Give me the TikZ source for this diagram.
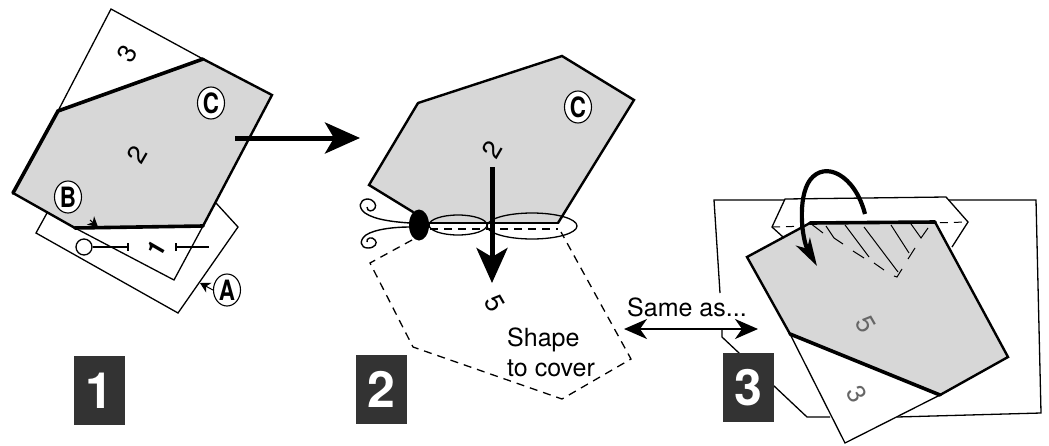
\documentclass[tikz,border=0pt]{standalone}
\usepackage{fontspec}
\usepackage{graphicx}
\setmainfont{TeX Gyre Heros}
\usetikzlibrary{arrows.meta,shapes.geometric}
\definecolor{paneg}{HTML}{D7D7D7}
\definecolor{sqdark}{HTML}{333333}
\definecolor{digitgray}{HTML}{666666}
\tikzset{
 thinl/.style={line width=1.3pt,line join=miter},
 medl/.style={line width=2.4pt,line cap=round},
 thickl/.style={line width=3.6pt,line cap=round},
 dashl/.style={line width=1.3pt,dash pattern=on 8pt off 6pt},
 badge/.style={fill=sqdark,text=white,font=\fontsize{50}{50}\selectfont\bfseries,minimum width=51pt,minimum height=69pt,inner sep=0pt},
 letterl/.style={ellipse,draw=black,fill=white,line width=1.1pt,minimum width=27pt,minimum height=32pt,inner sep=0pt,font=\fontsize{28}{28}\selectfont\bfseries},
 digitl/.style={font=\fontsize{26}{26}\selectfont,inner sep=0pt},
 plaintext/.style={font=\fontsize{25}{28}\selectfont,inner sep=0pt},
 bigarrow/.style={line width=5pt,-{Stealth[length=35pt,width=31pt,inset=9pt]}},
 smallhead/.style={line width=1pt,-{Stealth[length=10pt,width=11pt,inset=3pt]}},
 sameas/.style={line width=2.2pt,{Stealth[length=23pt,width=20pt,inset=7pt]}-{Stealth[length=23pt,width=20pt,inset=7pt]}},
 foldarrow/.style={line width=4.2pt,-{Stealth[length=28pt,width=16pt,inset=8pt]}},
}
\newcommand{\narrowed}[1]{\scalebox{.8}[1]{#1}}
\begin{document}
\begin{tikzpicture}[x=1pt,y=-1pt]
\useasboundingbox (0,0) rectangle (1049,445);
% ---------- panel 1
\draw[thinl,fill=white] (47,213) -- (36,233) -- (178,313) -- (238,227) -- (216,203);
\draw[thinl] (75,228) -- (174,280) -- (203,226);
\draw[thinl,fill=white] (58,111) -- (111,9) -- (203,59);
\fill[paneg] (58,111) -- (203,59) -- (272,95) -- (203,226) -- (75,228) -- (13,193) -- cycle;
\draw[thickl] (13,193) -- (58,111) -- (203,59);
\draw[medl] (203,59) -- (272,95) -- (203,226);
\draw[thickl] (203,226) -- (75,228);
\draw[medl] (75,228) -- (13,193);
\node[circle,draw,thinl,fill=white,minimum size=16pt,inner sep=0pt] (c1) at (84,247) {};
\coordinate (t1) at (128,247);
\coordinate (t2) at (176,247);
\coordinate (t3) at (209,247);
\draw[thinl] (c1) -- (t1);
\draw[thinl] (t2) -- (t3);
\draw[thinl] (128,243) -- (128,251);
\draw[thinl] (176,243) -- (176,251);
\node[digitl,rotate=60,font=\fontsize{24}{24}\selectfont\bfseries] (d1) at (156,248) {1};
\node[digitl,rotate=60] (d2) at (137,155) {2};
\node[digitl,rotate=60] (d3) at (127,54) {3};
\node[letterl] (lc) at (211,103) {\narrowed{C}};
\node[letterl] (lb) at (68,197) {\narrowed{B}};
\node[letterl] (la) at (227,290) {\narrowed{A}};
\coordinate (bh0) at (90,220);
\coordinate (bh1) at (98,227);
\draw[smallhead] (bh0) -- (bh1);
\coordinate (ah1) at (200,283);
\draw[smallhead] (la.west) -- (ah1);
\coordinate (m0) at (235,138);
\coordinate (m1) at (360,138);
\draw[bigarrow] (m0) -- (m1);
\node[badge] (b1) at (99.5,390.5) {1};
% ---------- panel 2
\fill[paneg] (369,185) -- (418,103) -- (562,56) -- (634,100) -- (558,223) -- (430,223) -- (413,212) -- cycle;
\draw[medl] (413,212) -- (369,185) -- (418,103);
\draw[medl] (418,103) -- (562,56) -- (634,100) -- (558,223);
\draw[medl] (430,223) -- (558,223);
\draw[dashl] (430,229) -- (558,229);
\draw[thinl] (458,225) ellipse (29 and 10);
\draw[thinl] (532,226) ellipse (45 and 13);
\draw[dashl] (412,240) -- (370,263) -- (413,347) -- (562,399) -- (631,359) -- (561,232);
\draw[line width=1.4pt] (410,223) .. controls (395,222) and (375,220) .. (365,213) .. controls (358,208) and (359,200) .. (367,199) .. controls (374,199) and (377,205) .. (375,208) .. controls (373,212) and (367,212) .. (367,207);
\draw[line width=1.4pt] (410,227) .. controls (395,227) and (375,229) .. (366,235) .. controls (359,240) and (360,248) .. (368,248) .. controls (375,248) and (378,243) .. (375,240) .. controls (372,236) and (366,238) .. (367,242);
\node[ellipse,fill=black,minimum width=20pt,minimum height=31pt,inner sep=0pt] (knot) at (419,225) {};
\node[letterl] (lc2) at (578,107) {\narrowed{C}};
\node[digitl,rotate=60] (d22) at (492,150) {2};
\node[digitl,rotate=-60] (d5) at (495,303) {5};
\coordinate (dn0) at (492,167);
\coordinate (dn1) at (492,283);
\draw[bigarrow] (dn0) -- (dn1);
\node[plaintext,anchor=west] (shape) at (507,340) {Shape};
\node[plaintext,anchor=west] (cover) at (507,368) {to cover};
\node[badge] (b2) at (381.5,389.5) {2};
% ---------- panel 3
\draw[thinl] (720,293) -- (714,200) -- (1036,200) -- (1041,413) -- (897,417);
\draw[thinl] (722,330) -- (722,337) -- (807,417) -- (830,417);
\draw[thinl,fill=white] (783,237) -- (772,227) -- (785,199) -- (946,197) -- (968,222) -- (952,247);
\draw[dashl,line width=1pt] (772,227) -- (968,222);
\draw[thinl,fill=white] (790,334) -- (845,443) -- (940,395);
\fill[paneg] (747,257) -- (810,223) -- (935,222) -- (1008,357) -- (940,395) -- (790,334) -- cycle;
\draw[medl] (790,334) -- (747,257) -- (810,223);
\draw[thickl] (810,223) -- (935,222);
\draw[medl] (935,222) -- (1008,357) -- (940,395);
\draw[thickl] (940,395) -- (790,334);
\draw[line width=1pt] (810,223) -- (823,233) (826,226) -- (834,238) -- (843,244);
\draw[line width=1pt] (845,225) -- (869,257) (853,251) -- (864,258) (874,263) -- (884,270);
\draw[line width=1pt] (864,227) -- (898,272) (902,269) -- (897,277) -- (894,276);
\draw[line width=1pt] (891,225) -- (909,253) (915,248) -- (908,259);
\draw[line width=1pt] (911,224) -- (921,238) -- (928,228);
\coordinate (f0) at (865,214);
\coordinate (f1) at (817,266);
\draw[foldarrow] (f0) .. controls (855,175) and (825,160) .. (810,180) .. controls (797,198) and (802,240) .. (f1);
\node[digitl,rotate=-60,text=digitgray] (d53) at (866,324) {5};
\node[digitl,rotate=-60,text=digitgray] (d33) at (857,394) {3};
\node[badge] (b3) at (748.5,387.5) {3};
% ---------- same as
\coordinate (sa0) at (624,329);
\coordinate (sa1) at (758,329);
\draw[sameas] (sa0) -- (sa1);
\node[plaintext,anchor=west] (same) at (627,307) {Same as...};
\end{tikzpicture}
\end{document}
